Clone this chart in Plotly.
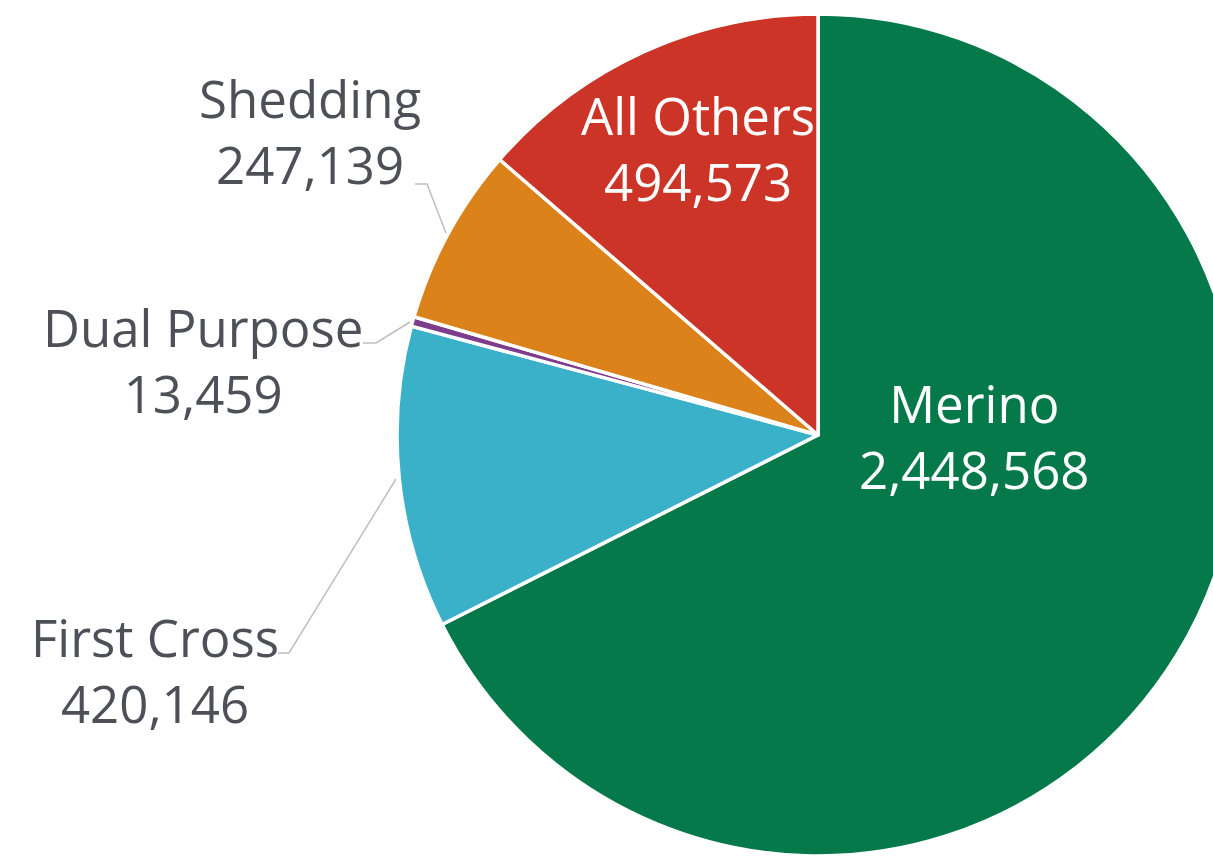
import plotly.graph_objects as go

# sheep flock by breed
breeds = ['Merino', 'First Cross', 'Dual Purpose', 'Shedding', 'All Others']
counts = [2448568, 420146, 13459, 247139, 494573]
colors = ['#06794A', '#3AB0C9', '#7D3C8C', '#DB821B', '#CB3426']

W, H = 1240, 856
cx, cy, r = 818, 435, 421


def px(x, y):
    # page pixel -> paper coords
    return x / W, 1 - y / H


fig = go.Figure()
fig.add_trace(go.Pie(
    labels=breeds, values=counts, sort=False, direction='clockwise', rotation=0,
    marker=dict(colors=colors, line=dict(color='white', width=3.5)),
    textinfo='none', hoverinfo='label+value', showlegend=False,
    domain=dict(x=[(cx - r) / W, (cx + r) / W], y=[1 - (cy + r) / H, 1 - (cy - r) / H]),
))

# label placement (pixel centres on the page) and text colour per slice
label_pos = {
    'Merino': (974, 436, 'white'),
    'First Cross': (155, 670, '#4D5157'),
    'Dual Purpose': (203, 360, '#4D5157'),
    'Shedding': (310, 131, '#4D5157'),
    'All Others': (698, 148, 'white'),
}
for name, val in zip(breeds, counts):
    x0, y0, col = label_pos[name]
    ax, ay = px(x0, y0)
    fig.add_annotation(
        x=ax, y=ay, xref='paper', yref='paper', showarrow=False,
        xanchor='center', yanchor='middle',
        text=f'{name}<br>{val:,}', font=dict(family='Open Sans', size=51, color=col),
        align='center',
    )

# leader lines for the outside labels
leaders = [
    [(278, 653), (289, 653), (396, 479)],
    [(363, 343), (376, 343), (410, 322)],
    [(415, 184), (427, 184), (446, 233)],
]
for pts in leaders:
    path = 'M ' + ' L '.join('{},{}'.format(*px(x, y)) for x, y in pts)
    fig.add_shape(type='path', path=path, xref='paper', yref='paper',
                  line=dict(color='#BFBFBF', width=1.5))

fig.update_layout(width=W, height=H, margin=dict(l=0, r=0, t=0, b=0),
                  paper_bgcolor='white', plot_bgcolor='white')
# pie runs off the right edge like the original, so drop page margin and scrollbars
fig.write_html('out.html', config={'displayModeBar': False},
               post_script="document.body.style.margin='0';document.body.style.overflow='hidden';")
